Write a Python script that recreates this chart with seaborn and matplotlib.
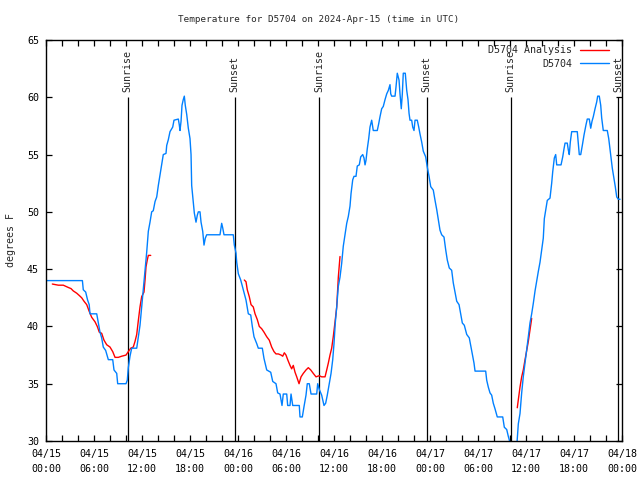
import numpy as np
import pandas as pd
import matplotlib
matplotlib.use("Agg")
import matplotlib.pyplot as plt
from matplotlib.lines import Line2D
import seaborn as sns

# ---------------- data (hours since 2024-04-15 00:00 UTC) ----------------
blue_hours = [0.0, 4.55, 4.66, 4.96, 5.2, 5.4, 5.5, 6.34, 6.54, 6.75, 6.96, 7.16, 7.46, 7.79, 8.34, 8.5,
              8.84, 8.96, 10.0, 10.16, 10.29, 10.5, 10.71, 11.34, 11.54, 11.75, 11.96, 12.16, 12.38,
              12.59, 12.79, 13.0, 13.21, 13.41, 13.63, 13.84, 14.04, 14.25, 14.46, 14.66, 15.0, 15.09,
              15.29, 15.5, 15.84, 16.0, 16.54, 16.66, 16.75, 16.88, 17.0, 17.16, 17.29, 17.41, 17.59,
              17.79, 18.0, 18.13, 18.21, 18.41, 18.54, 18.75, 18.91, 19.04, 19.25, 19.38, 19.59, 19.75,
              19.91, 20.09, 21.75, 21.96, 22.09, 22.25, 23.41, 23.54, 23.75, 23.84, 24.04, 24.34, 24.66,
              25.0, 25.29, 25.59, 25.79, 26.0, 26.34, 26.54, 27.04, 27.25, 27.59, 28.09, 28.34, 28.75,
              28.96, 29.25, 29.5, 29.66, 30.09, 30.21, 30.5, 30.63, 30.84, 31.66, 31.75, 32.04, 32.25,
              32.5, 32.66, 32.91, 33.13, 33.84, 33.96, 34.16, 34.46, 34.75, 34.96, 35.16, 35.41, 35.63,
              35.84, 36.0, 36.16, 36.34, 36.54, 36.75, 36.96, 37.16, 37.38, 37.59, 37.79, 38.0, 38.13,
              38.34, 38.5, 38.75, 38.91, 39.16, 39.34, 39.59, 39.75, 39.88, 40.0, 40.16, 40.34, 40.5,
              40.71, 40.91, 41.41, 41.59, 41.75, 41.96, 42.16, 42.38, 42.59, 42.79, 43.0, 43.09, 43.21,
              43.63, 43.75, 43.91, 44.13, 44.25, 44.41, 44.54, 44.66, 44.91, 45.09, 45.25, 45.38, 45.5,
              45.71, 45.84, 46.0, 46.13, 46.41, 46.59, 46.75, 46.96, 47.16, 47.46, 47.66, 47.88, 48.09,
              48.41, 48.63, 48.84, 49.04, 49.25, 49.46, 49.75, 49.96, 50.16, 50.41, 50.71, 50.91, 51.13,
              51.34, 51.63, 51.84, 52.04, 52.29, 52.59, 52.91, 53.13, 53.34, 53.5, 53.63, 54.96, 55.09,
              55.29, 55.5, 55.71, 55.91, 56.13, 56.41, 57.09, 57.29, 57.59, 57.79, 57.91, 58.05, 58.5,
              58.85, 59.04, 59.25, 59.46, 59.66, 59.88, 60.09, 60.29, 60.5, 60.71, 60.91, 61.13, 61.34,
              61.54, 61.75, 61.96, 62.16, 62.29, 62.5, 62.66, 63.0, 63.21, 63.34, 63.54, 63.71, 63.84,
              64.38, 64.59, 64.75, 64.88, 65.16, 65.29, 65.41, 65.54, 65.71, 66.41, 66.54, 66.66, 66.84,
              67.04, 67.25, 67.5, 67.66, 67.91, 68.09, 68.25, 68.41, 68.63, 68.84, 68.96, 69.16, 69.34,
              69.46, 69.66, 70.16, 70.34, 70.5, 70.63, 70.79, 71.0, 71.16, 71.34, 71.54, 71.75]
blue_temps = [44.0, 44.0, 43.2, 43.0, 42.3, 41.9, 41.1, 41.1, 40.3, 39.5, 39.0, 38.2, 37.9, 37.1, 37.1, 36.2,
              35.9, 35.0, 35.0, 35.3, 36.4, 37.4, 38.1, 38.1, 39.1, 40.1, 41.7, 43.2, 44.9,
              46.5, 48.3, 49.1, 50.0, 50.1, 50.9, 51.3, 52.3, 53.2, 54.1, 55.0, 55.1, 55.8,
              56.3, 57.0, 57.4, 58.0, 58.1, 57.6, 57.1, 57.9, 59.3, 59.8, 60.1, 59.3, 58.5,
              57.3, 56.4, 55.0, 52.3, 50.9, 49.9, 49.1, 49.7, 50.0, 50.0, 49.1, 48.3, 47.1,
              47.7, 48.0, 48.0, 49.0, 48.6, 48.0, 48.0, 47.1, 46.4, 45.6, 44.6, 44.05, 43.2,
              42.3, 41.1, 41.0, 40.0, 39.1, 38.5, 38.1, 38.1, 37.2, 36.2, 36.0, 35.2, 35.0,
              34.2, 34.1, 33.1, 34.1, 34.1, 33.1, 33.1, 34.1, 33.1, 33.1, 32.1, 32.1, 33.0,
              34.0, 35.0, 35.0, 34.1, 34.1, 35.0, 34.5, 34.0, 33.1, 33.3, 34.0, 35.0, 35.9,
              37.1, 38.5, 40.3, 41.7, 43.5, 44.3, 45.5, 47.0, 48.0, 49.0, 49.6, 50.5, 51.6,
              52.8, 53.1, 53.1, 54.0, 54.1, 54.8, 55.0, 54.7, 54.1, 54.5, 55.5, 56.4, 57.4,
              58.0, 57.1, 57.1, 57.7, 58.3, 59.0, 59.2, 59.8, 60.3, 60.6, 61.1, 60.3, 60.1,
              60.1, 60.9, 62.1, 61.5, 60.3, 59.0, 60.3, 62.1, 62.1, 60.6, 59.8, 58.6, 58.0,
              58.0, 57.4, 57.1, 58.0, 58.0, 57.4, 56.8, 56.1, 55.3, 54.8, 53.9, 53.1, 52.2,
              51.9, 51.0, 50.2, 49.3, 48.4, 48.0, 47.8, 46.7, 45.8, 45.1, 44.9, 43.8, 43.0,
              42.2, 41.9, 41.1, 40.3, 40.1, 39.3, 39.0, 38.2, 37.4, 36.8, 36.1, 36.1, 35.3,
              34.7, 34.2, 34.0, 33.3, 32.8, 32.1, 32.1, 31.2, 31.0, 30.4, 30.1, 29.6, 29.3,
              29.6, 31.5, 32.4, 34.2, 35.6, 36.8, 37.9, 39.1, 40.3, 41.1, 42.0, 43.1, 44.0,
              44.8, 45.6, 46.7, 47.7, 49.4, 50.3, 51.0, 51.2, 52.5, 53.5, 54.7, 55.0, 54.1,
              54.1, 54.8, 55.5, 56.0, 56.0, 55.4, 55.0, 56.1, 57.0, 57.0, 56.0, 55.0, 55.0,
              55.8, 56.7, 57.6, 58.1, 58.1, 57.3, 57.9, 58.3, 59.0, 59.6, 60.1, 60.1, 59.3,
              58.2, 57.1, 57.1, 56.4, 55.5, 54.7, 53.8, 52.9, 52.2, 51.3, 51.1, 51.1]

# analysis (red) comes in three separate pieces
red_seg1_hours = [0.79, 1.54, 2.16, 2.79, 3.13, 3.41, 3.84, 4.16, 4.46, 4.75, 5.09, 5.41, 5.71, 6.13,
                  6.41, 6.66, 6.96, 7.25, 7.59, 8.0, 8.34, 8.63, 9.04, 9.46, 10.0, 10.29, 10.59,
                  10.91, 11.13, 11.34, 11.54, 11.75, 11.96, 12.25, 12.38, 12.5, 12.66, 12.79, 13.09]
red_seg1_temps = [43.7, 43.6, 43.6, 43.4, 43.3, 43.1, 42.9, 42.7, 42.5, 42.2, 41.9, 41.3, 40.8, 40.4,
                  40.0, 39.5, 39.4, 38.8, 38.4, 38.2, 37.8, 37.3, 37.3, 37.4, 37.5, 37.8, 38.1,
                  38.2, 38.7, 39.3, 40.5, 41.7, 42.6, 43.0, 44.05, 45.2, 45.8, 46.2, 46.2]
red_seg2_hours = [24.79, 25.0, 25.16, 25.41, 25.63, 25.91, 26.13, 26.41, 26.66, 26.96, 27.25, 27.59,
                  27.91, 28.21, 28.5, 28.75, 29.04, 29.38, 29.59, 29.79, 30.0, 30.21, 30.5, 30.71,
                  30.91, 31.13, 31.34, 31.63, 31.88, 32.16, 32.5, 32.79, 33.09, 33.41, 33.75, 34.16,
                  34.46, 34.88, 35.09, 35.29, 35.5, 35.71, 35.91, 36.13, 36.34, 36.54, 36.75]
red_seg2_temps = [44.05, 43.9, 43.2, 42.6, 41.9, 41.7, 41.1, 40.6, 40.0, 39.8, 39.5, 39.1,
                  38.8, 38.2, 37.8, 37.6, 37.6, 37.5, 37.4, 37.7, 37.5, 37.1, 36.6, 36.3,
                  36.6, 36.0, 35.6, 35.0, 35.6, 35.9, 36.2, 36.4, 36.2, 35.9, 35.6, 35.7,
                  35.6, 35.6, 36.2, 36.8, 37.5, 38.1, 39.1, 40.4, 41.7, 44.3, 46.1]
red_seg3_hours = [58.91, 59.04, 59.25, 59.46, 59.66, 59.88, 60.09, 60.29, 60.5, 60.71]
red_seg3_temps = [32.9, 33.6, 34.7, 35.6, 36.2, 37.1, 37.9, 38.7, 39.7, 40.7]

sunrise_hours = [10.2, 34.15, 58.1]
sunset_hours = [23.6, 47.6, 71.55]

tick_hours = [0, 6, 12, 18, 24, 30, 36, 42, 48, 54, 60, 66, 72]
tick_labels = ["04/15\n00:00", "04/15\n06:00", "04/15\n12:00", "04/15\n18:00",
               "04/16\n00:00", "04/16\n06:00", "04/16\n12:00", "04/16\n18:00",
               "04/17\n00:00", "04/17\n06:00", "04/17\n12:00", "04/17\n18:00",
               "04/18\n00:00"]
y_ticks = [30, 35, 40, 45, 50, 55, 60, 65]

title = "Temperature for D5704 on 2024-Apr-15 (time in UTC)"
blue_name = "D5704"
red_name = "D5704 Analysis"

# ---------------- build tables ----------------
df_blue = pd.DataFrame({"hour": blue_hours, "temp": blue_temps})
df_red = pd.concat([
    pd.DataFrame({"hour": red_seg1_hours, "temp": red_seg1_temps, "seg": 1}),
    pd.DataFrame({"hour": red_seg2_hours, "temp": red_seg2_temps, "seg": 2}),
    pd.DataFrame({"hour": red_seg3_hours, "temp": red_seg3_temps, "seg": 3}),
], ignore_index=True)

# ---------------- style ----------------
sns.set_style("ticks")
plt.rcParams["font.family"] = ["DejaVu Sans Mono"]
plt.rcParams["font.size"] = 7.2

BLUE = "#0080ff"
RED = "#ff0000"

fig = plt.figure(figsize=(6.4, 4.8), dpi=100)
ax = fig.add_axes([46 / 640, 1 - 441 / 480, 576 / 640, 401 / 480])

sns.lineplot(data=df_red, x="hour", y="temp", units="seg", estimator=None, sort=False,
             color=RED, lw=1.0, ax=ax, legend=False)
sns.lineplot(data=df_blue, x="hour", y="temp", estimator=None, sort=False,
             color=BLUE, lw=1.0, ax=ax, legend=False)

# sunrise / sunset markers
ax.vlines(sunrise_hours + sunset_hours, 30, 60, color="black", lw=0.9, zorder=1)
for h in sunrise_hours:
    ax.text(h, 60.45, "Sunrise", rotation=90, ha="center", va="bottom", fontsize=7.2)
for h in sunset_hours:
    ax.text(h, 60.45, "Sunset", rotation=90, ha="center", va="bottom", fontsize=7.2)

ax.set_xlim(0, 72)
ax.set_ylim(30, 65)
ax.set_xticks(tick_hours)
ax.set_xticklabels(tick_labels)
ax.set_xticks(np.arange(0, 73, 2), minor=True)
ax.set_yticks(y_ticks)
ax.set_yticklabels([str(v) for v in y_ticks])
ax.tick_params(axis="both", which="both", direction="in", top=True, right=True,
               length=4, width=0.9, colors="black", labelsize=7.2)
ax.tick_params(axis="x", which="major", pad=6)
ax.tick_params(axis="y", which="major", pad=5)
for lbl in ax.get_xticklabels():
    lbl.set_linespacing(1.6)
ax.set_xlabel("")
ax.set_ylabel("degrees F", fontsize=7.2, labelpad=8)
for s in ax.spines.values():
    s.set_color("black")
    s.set_linewidth(1.0)

fig.text(319 / 640, 1 - 20 / 480, title, ha="center", va="center", fontsize=6.7)

handles = [Line2D([], [], color=RED, lw=1.0), Line2D([], [], color=BLUE, lw=1.0)]
ax.legend(handles, [red_name, blue_name], loc="upper right", frameon=False,
          markerfirst=False, handlelength=2.9, handletextpad=0.8, labelspacing=0.35,
          borderaxespad=0.0, bbox_to_anchor=(0.985, 0.997), fontsize=7.2)

fig.savefig("out.png", dpi=100)
